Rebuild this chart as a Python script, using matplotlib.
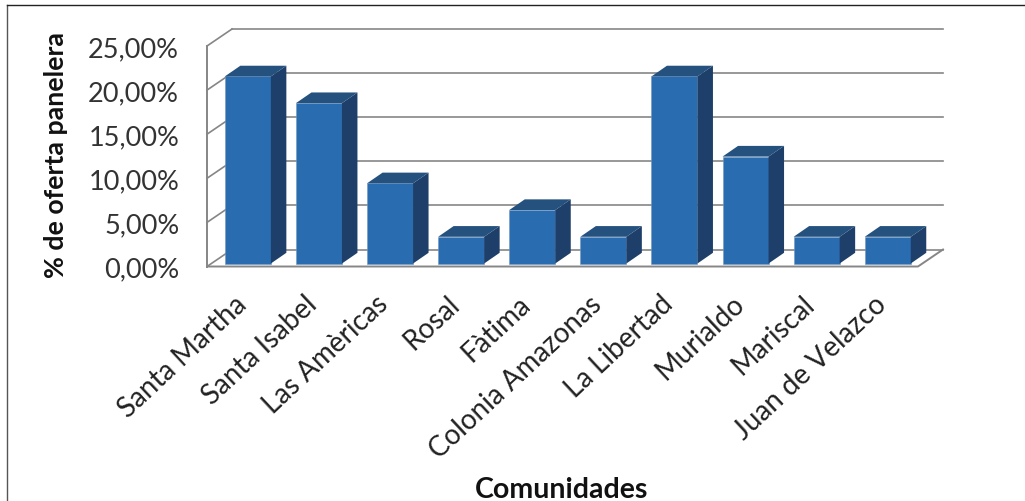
import matplotlib
matplotlib.use("Agg")
import matplotlib.pyplot as plt
from matplotlib.lines import Line2D
import numpy as np

comunidades = ["Santa Martha", "Santa Isabel", "Las Amèricas", "Rosal", "Fàtima",
               "Colonia Amazonas", "La Libertad", "Murialdo", "Mariscal", "Juan de Velazco"]
oferta = [21.21, 18.18, 9.09, 3.03, 6.06, 3.03, 21.21, 12.12, 3.03, 3.03]
ticks = [0, 5, 10, 15, 20, 25]
tick_labels = ["0,00%", "5,00%", "10,00%", "15,00%", "20,00%", "25,00%"]

W, H = 1025, 502
plt.rcParams["font.family"] = ["Lato", "DejaVu Sans"]

fig = plt.figure(figsize=(W / 100, H / 100), dpi=100)
# plano frontal de la caja 3D, en pixeles de la imagen
left, right, top, bottom = 207, 918, 47, 267.5
ax = fig.add_axes([left / W, 1 - bottom / H, (right - left) / W, (bottom - top) / H])
ax.set_xlim(-0.5, 9.5)
ax.set_ylim(0, 25)
ax.patch.set_visible(False)
for s in ax.spines.values():
    s.set_visible(False)

# factores de pixel a unidades de datos
ux = 10 / (right - left)
uy = 25 / (bottom - top)

# paredes
wall_dx, wall_dy = 25 * ux, 17 * uy
grid = "#868686"
for t in ticks:
    ax.plot([-0.5, -0.5 + wall_dx], [t, t + wall_dy], color=grid, lw=1.2, clip_on=False, zorder=1)
    ax.plot([-0.5 + wall_dx, 9.5 + wall_dx], [t + wall_dy, t + wall_dy], color=grid, lw=1.2,
            clip_on=False, zorder=1)
ax.plot([-0.5, -0.5], [0, 25], color=grid, lw=1.4, clip_on=False, zorder=1)
ax.plot([-0.5, 9.5, 9.5 + wall_dx], [0, 0, wall_dy], color=grid, lw=1.4, clip_on=False, zorder=1)

# barras
inset_x, inset_y = 5.3 * ux, 3.0 * uy
bar_w = 46 * ux
depth_x, depth_y = 15.5 * ux, 10.7 * uy
x = np.arange(len(oferta)) + inset_x
ax.bar(x, oferta, width=bar_w, bottom=inset_y, color="#2A6CB0", edgecolor="#6F97C4",
       linewidth=0.4, zorder=3, clip_on=False)
for xi, v in zip(x, oferta):
    l, r = xi - bar_w / 2, xi + bar_w / 2
    b, t = inset_y, inset_y + v
    ax.fill([r, r + depth_x, r + depth_x, r], [b, b + depth_y, t + depth_y, t],
            color="#1E3F69", lw=0, zorder=3, clip_on=False)
    ax.fill([l, l + depth_x, r + depth_x, r], [t, t + depth_y, t + depth_y, t],
            color="#25517F", lw=0, zorder=3, clip_on=False)

ax.set_yticks(ticks)
ax.set_yticklabels(tick_labels, fontsize=19.5, color="#333333")
# las etiquetas van un poco a la izquierda del centro de cada barra
ax.set_xticks(np.arange(len(oferta)) - 9 * ux)
ax.set_xticklabels(comunidades, fontsize=20, color="#222222", rotation=43, ha="right",
                   rotation_mode="anchor")
ax.tick_params(axis="y", length=0, pad=20)
ax.tick_params(axis="x", length=0, pad=17)

fig.text(56 / W, 1 - 155 / H, "% de oferta panelera", rotation=90, ha="center", va="center",
         fontsize=19.3, fontweight="bold", color="#111111")
fig.text(562 / W, 1 - 490 / H, "Comunidades", ha="center", va="center",
         fontsize=20.5, fontweight="bold", color="#111111")

# marco del grafico
fig.add_artist(Line2D([7 / W, 7 / W], [0, 1 - 6 / H], color="#555555", lw=1))
fig.add_artist(Line2D([7 / W, 1], [1 - 6 / H, 1 - 6 / H], color="#222222", lw=1))

fig.savefig("out.png", dpi=100)
